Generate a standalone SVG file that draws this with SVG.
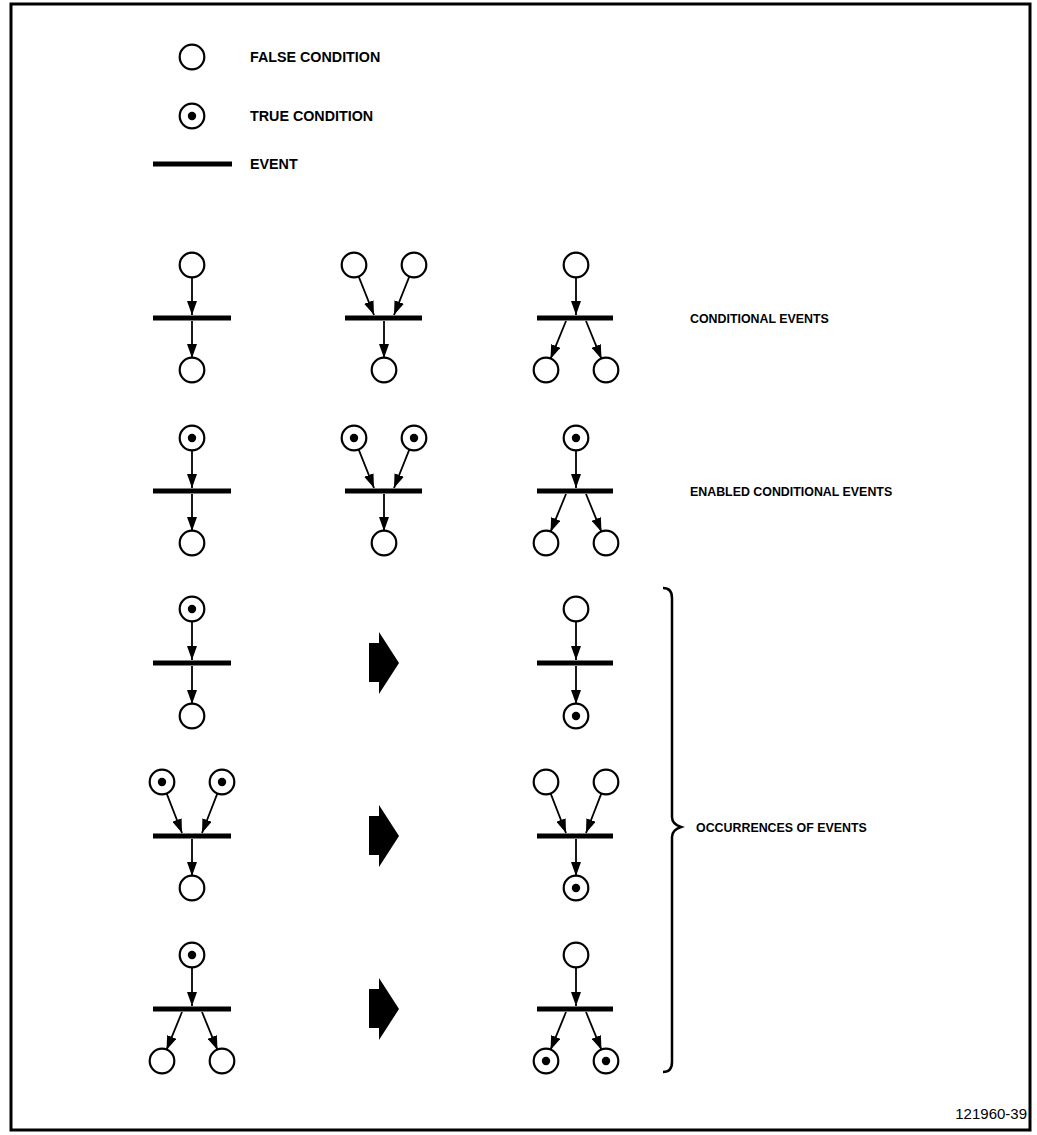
<svg xmlns="http://www.w3.org/2000/svg" width="1037" height="1135" viewBox="0 0 1037 1135">
<style>
.place{fill:#fff;stroke:#000;stroke-width:2.2}
.tok{fill:#000}
.bar{stroke:#000;stroke-width:5}
.arc{stroke:#000;stroke-width:1.8;fill:none;marker-end:url(#ah)}
.big{fill:#000}
.lbl{font-family:"Liberation Sans",Arial,sans-serif;font-weight:bold;fill:#000}
.leg{font-size:14.3px}
.side{font-size:12.4px}
</style>
<defs>
<marker id="ah" markerUnits="userSpaceOnUse" markerWidth="14" markerHeight="10" refX="14" refY="5" orient="auto"><path d="M0,0 L14,5 L0,10 z" fill="#000"/></marker>
<g id="F"><circle r="12.3" class="place"/></g>
<g id="T"><circle r="12.3" class="place"/><circle r="4.2" class="tok"/></g>
</defs>
<rect x="11" y="4" width="1019" height="1126" fill="#fff" stroke="#000" stroke-width="3"/>

<g id="legend">
<g id="leg-false"><use href="#F" x="192" y="57"/><text class="lbl leg" x="250" y="62">FALSE CONDITION</text></g>
<g id="leg-true"><use href="#T" x="192" y="116"/><text class="lbl leg" x="250" y="121">TRUE CONDITION</text></g>
<g id="leg-event"><line class="bar" x1="153" y1="164" x2="232" y2="164"/><text class="lbl leg" x="250" y="169">EVENT</text></g>
</g>

<!-- Row 1 -->
<g id="r1c1"><use href="#F" x="192" y="265"/><line class="bar" x1="153" y1="318" x2="231" y2="318"/><use href="#F" x="192" y="370"/></g>
<g id="r1c2"><use href="#F" x="354" y="265"/><use href="#F" x="414" y="265"/><line class="bar" x1="345" y1="318" x2="422" y2="318"/><use href="#F" x="384" y="370"/></g>
<g id="r1c3"><use href="#F" x="576" y="265"/><line class="bar" x1="537" y1="318" x2="613" y2="318"/><use href="#F" x="546" y="370"/><use href="#F" x="606" y="370"/></g>
<text class="lbl side" x="690" y="323">CONDITIONAL EVENTS</text>

<!-- Row 2 -->
<g id="r2c1"><use href="#T" x="192" y="438"/><line class="bar" x1="153" y1="491" x2="231" y2="491"/><use href="#F" x="192" y="543"/></g>
<g id="r2c2"><use href="#T" x="354" y="438"/><use href="#T" x="414" y="438"/><line class="bar" x1="345" y1="491" x2="422" y2="491"/><use href="#F" x="384" y="543"/></g>
<g id="r2c3"><use href="#T" x="576" y="438"/><line class="bar" x1="537" y1="491" x2="613" y2="491"/><use href="#F" x="546" y="543"/><use href="#F" x="606" y="543"/></g>
<text class="lbl side" x="690" y="496">ENABLED CONDITIONAL EVENTS</text>

<!-- Row 3 -->
<g id="r3c1"><use href="#T" x="192" y="609"/><line class="bar" x1="153" y1="663" x2="231" y2="663"/><use href="#F" x="192" y="716"/></g>
<g id="r3arrow"><polygon class="big" points="369,643 379,643 379,632 399,663 379,694 379,682 369,682"/></g>
<g id="r3c3"><use href="#F" x="576" y="609"/><line class="bar" x1="537" y1="663" x2="613" y2="663"/><use href="#T" x="576" y="716"/></g>

<!-- Row 4 -->
<g id="r4c1"><use href="#T" x="162" y="782"/><use href="#T" x="222" y="782"/><line class="bar" x1="153" y1="836" x2="231" y2="836"/><use href="#F" x="192" y="888"/></g>
<g id="r4arrow"><polygon class="big" points="369,816 379,816 379,805 399,836 379,867 379,855 369,855"/></g>
<g id="r4c3"><use href="#F" x="546" y="782"/><use href="#F" x="606" y="782"/><line class="bar" x1="537" y1="836" x2="613" y2="836"/><use href="#T" x="576" y="888"/></g>

<!-- Row 5 -->
<g id="r5c1"><use href="#T" x="192" y="955"/><line class="bar" x1="153" y1="1009" x2="231" y2="1009"/><use href="#F" x="162" y="1061"/><use href="#F" x="222" y="1061"/></g>
<g id="r5arrow"><polygon class="big" points="369,989 379,989 379,978 399,1009 379,1040 379,1028 369,1028"/></g>
<g id="r5c3"><use href="#F" x="576" y="955"/><line class="bar" x1="537" y1="1009" x2="613" y2="1009"/><use href="#T" x="546" y="1061"/><use href="#T" x="606" y="1061"/></g>

<g id="brace"><path d="M663,588 Q672,588 672,598 L672,817 Q672,824 681,827 Q672,830 672,837 L672,1062 Q672,1072 663,1072" fill="none" stroke="#000" stroke-width="2.5"/>
<text class="lbl side" x="696" y="832">OCCURRENCES OF EVENTS</text></g>

<text x="1027" y="1119" text-anchor="end" font-family="Liberation Sans,Arial,sans-serif" font-size="15" fill="#000">121960-39</text>

<g id="connectors">
<line class="arc" x1="192" y1="277" x2="192" y2="315"/><line class="arc" x1="192" y1="321" x2="192" y2="358"/>
<line class="arc" x1="358.5" y1="276.1" x2="374" y2="315"/><line class="arc" x1="409.5" y1="276.1" x2="394" y2="315"/><line class="arc" x1="384" y1="321" x2="384" y2="358"/>
<line class="arc" x1="576" y1="277" x2="576" y2="315"/><line class="arc" x1="566" y1="321" x2="550.5" y2="358.9"/><line class="arc" x1="586" y1="321" x2="601.5" y2="358.9"/>

<line class="arc" x1="192" y1="450" x2="192" y2="488"/><line class="arc" x1="192" y1="494" x2="192" y2="531"/>
<line class="arc" x1="358.5" y1="449.1" x2="374" y2="488"/><line class="arc" x1="409.5" y1="449.1" x2="394" y2="488"/><line class="arc" x1="384" y1="494" x2="384" y2="531"/>
<line class="arc" x1="576" y1="450" x2="576" y2="488"/><line class="arc" x1="566" y1="494" x2="550.5" y2="531.9"/><line class="arc" x1="586" y1="494" x2="601.5" y2="531.9"/>

<line class="arc" x1="192" y1="621" x2="192" y2="660"/><line class="arc" x1="192" y1="666" x2="192" y2="704"/>
<line class="arc" x1="576" y1="621" x2="576" y2="660"/><line class="arc" x1="576" y1="666" x2="576" y2="704"/>

<line class="arc" x1="166.5" y1="793.1" x2="182" y2="833"/><line class="arc" x1="217.5" y1="793.1" x2="202" y2="833"/><line class="arc" x1="192" y1="839" x2="192" y2="876"/>
<line class="arc" x1="550.5" y1="793.1" x2="566" y2="833"/><line class="arc" x1="601.5" y1="793.1" x2="586" y2="833"/><line class="arc" x1="576" y1="839" x2="576" y2="876"/>

<line class="arc" x1="192" y1="967" x2="192" y2="1006"/><line class="arc" x1="182" y1="1012" x2="166.5" y2="1049.9"/><line class="arc" x1="202" y1="1012" x2="217.5" y2="1049.9"/>
<line class="arc" x1="576" y1="967" x2="576" y2="1006"/><line class="arc" x1="566" y1="1012" x2="550.5" y2="1049.9"/><line class="arc" x1="586" y1="1012" x2="601.5" y2="1049.9"/>
</g>
</svg>
